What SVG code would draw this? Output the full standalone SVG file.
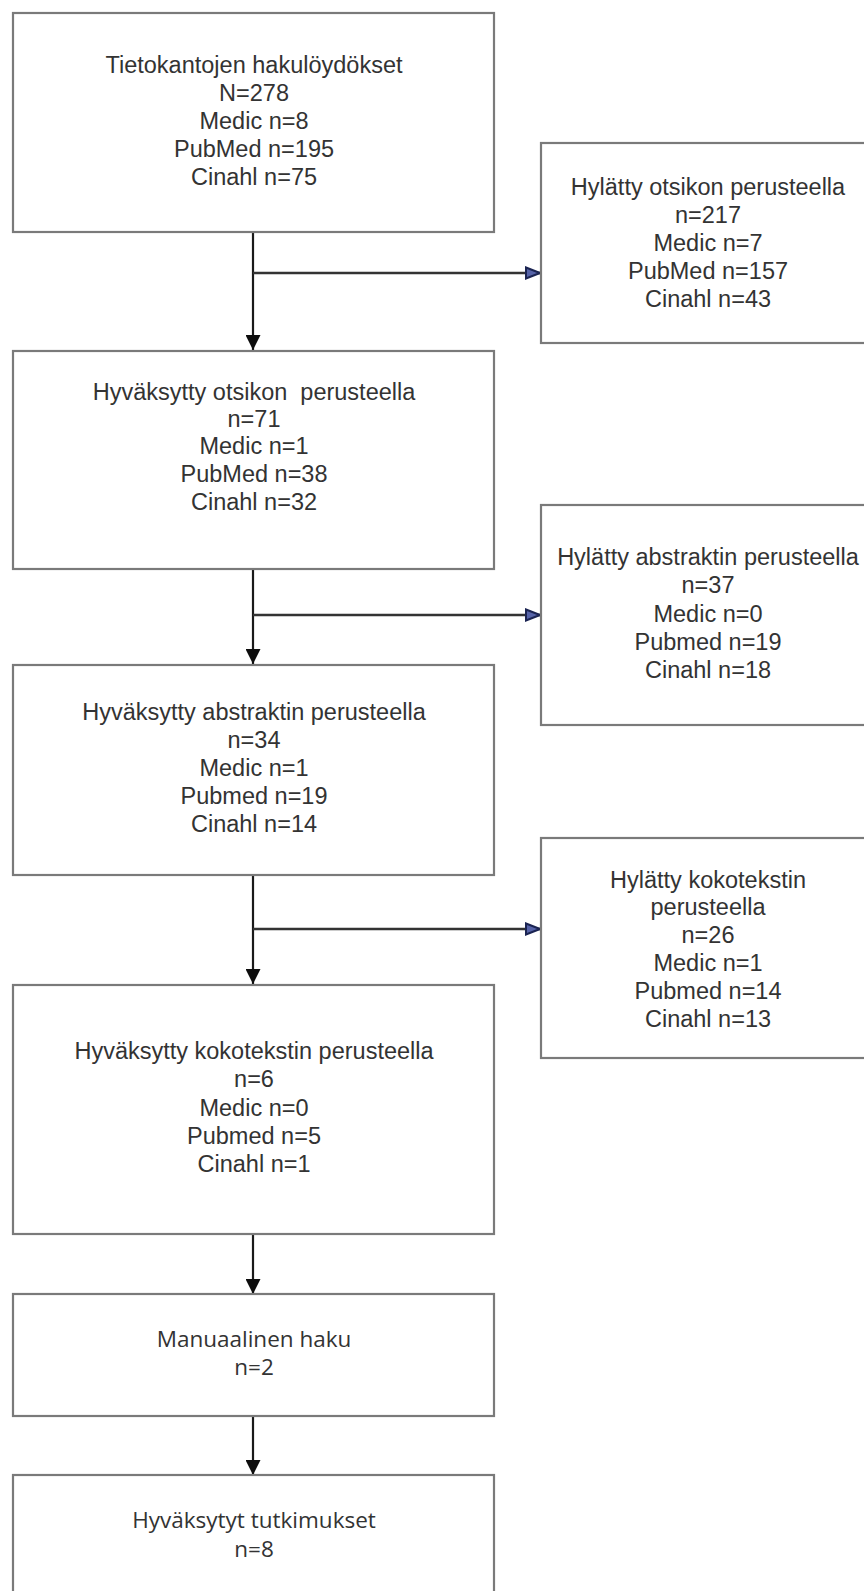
<svg xmlns="http://www.w3.org/2000/svg" width="864" height="1591" viewBox="0 0 864 1591">
  <style>
    .box { fill: #ffffff; stroke: #7a7a7a; stroke-width: 2.2; }
    .t { font-family: "Liberation Sans", Arial, sans-serif; font-size: 23.5px; fill: #333333; text-anchor: middle; }
    .t2 { font-family: "Open Sans", "Noto Sans", sans-serif; font-size: 22.5px; fill: #333333; text-anchor: middle; }
    .flow { stroke: #1a1a1a; stroke-width: 2.2; fill: none; }
    .side { stroke: #333333; stroke-width: 2.4; fill: none; }
  </style>
  <defs>
    <marker id="down" markerWidth="15" markerHeight="15" refX="15" refY="7.5" orient="auto" markerUnits="userSpaceOnUse" viewBox="0 0 15 15">
      <path d="M0,0 L15,7.5 L0,15 Z" fill="#0d0d0d"/>
    </marker>
    <marker id="right" markerWidth="16" markerHeight="14" refX="15" refY="7" orient="auto" markerUnits="userSpaceOnUse" viewBox="0 0 16 14">
      <path d="M1,1.5 L15,7 L1,12.5 Z" fill="#5663a8" stroke="#1b2452" stroke-width="2"/>
    </marker>
  </defs>

  <rect width="864" height="1591" fill="#ffffff"/>

  <!-- connectors -->
  <g id="connectors">
    <line class="flow" x1="253" y1="232" x2="253" y2="350" marker-end="url(#down)"/>
    <line class="side" x1="253" y1="273" x2="540" y2="273" marker-end="url(#right)"/>
    <line class="flow" x1="253" y1="569" x2="253" y2="664" marker-end="url(#down)"/>
    <line class="side" x1="253" y1="615" x2="540" y2="615" marker-end="url(#right)"/>
    <line class="flow" x1="253" y1="875" x2="253" y2="984" marker-end="url(#down)"/>
    <line class="side" x1="253" y1="929" x2="540" y2="929" marker-end="url(#right)"/>
    <line class="flow" x1="253" y1="1234" x2="253" y2="1294" marker-end="url(#down)"/>
    <line class="flow" x1="253" y1="1416" x2="253" y2="1475" marker-end="url(#down)"/>
  </g>

  <!-- database search results -->
  <g id="search-results">
    <rect class="box" x="13" y="13" width="481" height="219"/>
    <text class="t" x="254" y="73">Tietokantojen hakulöydökset</text>
    <text class="t" x="254" y="101">N=278</text>
    <text class="t" x="254" y="129">Medic n=8</text>
    <text class="t" x="254" y="157">PubMed n=195</text>
    <text class="t" x="254" y="185">Cinahl n=75</text>
  </g>

  <g id="rejected-title">
    <rect class="box" x="541" y="143" width="340" height="200"/>
    <text class="t" x="708" y="195">Hylätty otsikon perusteella</text>
    <text class="t" x="708" y="223">n=217</text>
    <text class="t" x="708" y="251">Medic n=7</text>
    <text class="t" x="708" y="279">PubMed n=157</text>
    <text class="t" x="708" y="307">Cinahl n=43</text>
  </g>

  <g id="accepted-title">
    <rect class="box" x="13" y="351" width="481" height="218"/>
    <text class="t" x="254" y="400" xml:space="preserve">Hyväksytty otsikon  perusteella</text>
    <text class="t" x="254" y="427">n=71</text>
    <text class="t" x="254" y="454">Medic n=1</text>
    <text class="t" x="254" y="482">PubMed n=38</text>
    <text class="t" x="254" y="510">Cinahl n=32</text>
  </g>

  <g id="rejected-abstract">
    <rect class="box" x="541" y="505" width="340" height="220"/>
    <text class="t" x="708" y="565">Hylätty abstraktin perusteella</text>
    <text class="t" x="708" y="593">n=37</text>
    <text class="t" x="708" y="622">Medic n=0</text>
    <text class="t" x="708" y="650">Pubmed n=19</text>
    <text class="t" x="708" y="678">Cinahl n=18</text>
  </g>

  <g id="accepted-abstract">
    <rect class="box" x="13" y="665" width="481" height="210"/>
    <text class="t" x="254" y="720">Hyväksytty abstraktin perusteella</text>
    <text class="t" x="254" y="748">n=34</text>
    <text class="t" x="254" y="776">Medic n=1</text>
    <text class="t" x="254" y="804">Pubmed n=19</text>
    <text class="t" x="254" y="832">Cinahl n=14</text>
  </g>

  <g id="rejected-fulltext">
    <rect class="box" x="541" y="838" width="340" height="220"/>
    <text class="t" x="708" y="888">Hylätty kokotekstin</text>
    <text class="t" x="708" y="915">perusteella</text>
    <text class="t" x="708" y="943">n=26</text>
    <text class="t" x="708" y="971">Medic n=1</text>
    <text class="t" x="708" y="999">Pubmed n=14</text>
    <text class="t" x="708" y="1027">Cinahl n=13</text>
  </g>

  <g id="accepted-fulltext">
    <rect class="box" x="13" y="985" width="481" height="249"/>
    <text class="t" x="254" y="1059">Hyväksytty kokotekstin perusteella</text>
    <text class="t" x="254" y="1087">n=6</text>
    <text class="t" x="254" y="1116">Medic n=0</text>
    <text class="t" x="254" y="1144">Pubmed n=5</text>
    <text class="t" x="254" y="1172">Cinahl n=1</text>
  </g>

  <g id="manual-search">
    <rect class="box" x="13" y="1294" width="481" height="122"/>
    <text class="t2" x="254" y="1347">Manuaalinen haku</text>
    <text class="t2" x="254" y="1375">n=2</text>
  </g>

  <g id="included-studies">
    <rect class="box" x="13" y="1475" width="481" height="140"/>
    <text class="t2" x="254" y="1528">Hyväksytyt tutkimukset</text>
    <text class="t2" x="254" y="1557">n=8</text>
  </g>
</svg>
